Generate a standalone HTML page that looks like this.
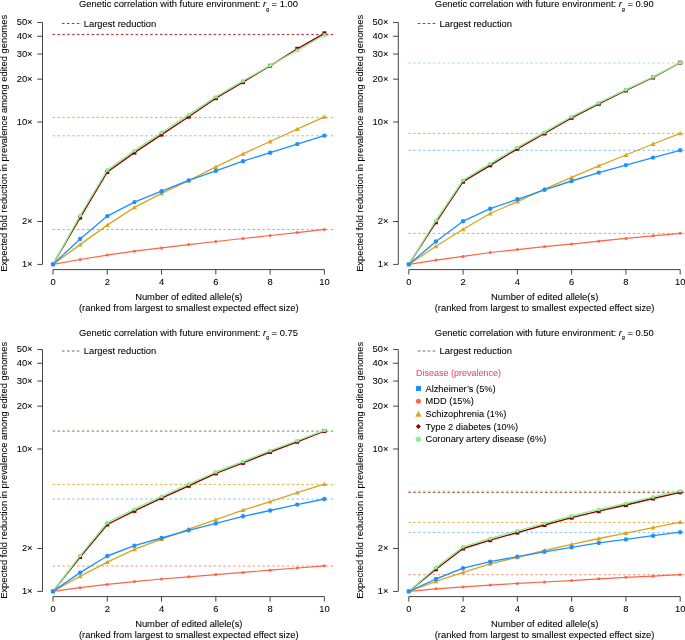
<!DOCTYPE html>
<html><head><meta charset="utf-8"><style>
html,body{margin:0;padding:0;background:#fff;}
svg{display:block;will-change:transform;}
text{font-family:"Liberation Sans", sans-serif;fill:#000;stroke:#000;stroke-width:0.07px;}
</style></head><body>
<svg width="685" height="640" viewBox="0 0 685 640">
<rect width="685" height="640" fill="#fff"/>
<text x="188.5" y="6.8" text-anchor="middle" font-size="9.4">Genetic correlation with future environment: <tspan font-style="italic">r</tspan><tspan font-size="5.2" dy="3.7" style="stroke-width:0.1px">g</tspan><tspan dy="-3.7"> = 1.00</tspan></text>
<path d="M42.5 22.47V264.4" stroke="#444" stroke-width="1" fill="none"/>
<path d="M37.3 264.4H42.5" stroke="#444" stroke-width="1"/>
<text x="32.6" y="267" text-anchor="end" font-size="9.4">1×</text>
<path d="M37.3 221.53H42.5" stroke="#444" stroke-width="1"/>
<text x="32.6" y="224.13" text-anchor="end" font-size="9.4">2×</text>
<path d="M37.3 122H42.5" stroke="#444" stroke-width="1"/>
<text x="32.6" y="124.6" text-anchor="end" font-size="9.4">10×</text>
<path d="M37.3 79.13H42.5" stroke="#444" stroke-width="1"/>
<text x="32.6" y="81.73" text-anchor="end" font-size="9.4">20×</text>
<path d="M37.3 54.06H42.5" stroke="#444" stroke-width="1"/>
<text x="32.6" y="56.66" text-anchor="end" font-size="9.4">30×</text>
<path d="M37.3 36.27H42.5" stroke="#444" stroke-width="1"/>
<text x="32.6" y="38.87" text-anchor="end" font-size="9.4">40×</text>
<path d="M37.3 22.47H42.5" stroke="#444" stroke-width="1"/>
<text x="32.6" y="25.07" text-anchor="end" font-size="9.4">50×</text>
<path d="M53 269.6H324.4" stroke="#444" stroke-width="1" fill="none"/>
<path d="M53 269.6V274.6" stroke="#444" stroke-width="1"/>
<text x="53" y="285.3" text-anchor="middle" font-size="9.4">0</text>
<path d="M107.28 269.6V274.6" stroke="#444" stroke-width="1"/>
<text x="107.28" y="285.3" text-anchor="middle" font-size="9.4">2</text>
<path d="M161.56 269.6V274.6" stroke="#444" stroke-width="1"/>
<text x="161.56" y="285.3" text-anchor="middle" font-size="9.4">4</text>
<path d="M215.84 269.6V274.6" stroke="#444" stroke-width="1"/>
<text x="215.84" y="285.3" text-anchor="middle" font-size="9.4">6</text>
<path d="M270.12 269.6V274.6" stroke="#444" stroke-width="1"/>
<text x="270.12" y="285.3" text-anchor="middle" font-size="9.4">8</text>
<path d="M324.4 269.6V274.6" stroke="#444" stroke-width="1"/>
<text x="324.4" y="285.3" text-anchor="middle" font-size="9.4">10</text>
<text x="188.8" y="299.9" text-anchor="middle" font-size="9.4">Number of edited allele(s)</text>
<text x="188.8" y="310.8" text-anchor="middle" font-size="9.4">(ranked from largest to smallest expected effect size)</text>
<text transform="translate(7.2 143.4) rotate(-90)" text-anchor="middle" font-size="9.4">Expected fold reduction in prevalence among edited genomes</text>
<path d="M62 23.5H79.8" stroke="#5a5a5a" stroke-width="1.0" stroke-dasharray="2.6 2.33"/>
<text x="83.8" y="26.9" font-size="9.4">Largest reduction</text>
<path d="M52.6 229.5H333.3" stroke="#FF6347" stroke-width="1" stroke-opacity="0.7" stroke-dasharray="2.5 2.38"/>
<path d="M52.6 135.8H333.3" stroke="#1E90FF" stroke-width="1" stroke-opacity="0.55" stroke-dasharray="2.5 2.38"/>
<path d="M52.6 117.4H333.3" stroke="#DAA520" stroke-width="1" stroke-opacity="0.85" stroke-dasharray="2.5 2.38"/>
<path d="M52.6 35.3H333.3" stroke="#90EE90" stroke-width="1" stroke-opacity="0.6" stroke-dasharray="2.5 2.38"/>
<path d="M52.6 34.4H333.3" stroke="#8B0000" stroke-width="1" stroke-opacity="0.8" stroke-dasharray="2.5 2.38"/>
<polyline points="53,264.4 80.14,259.5 107.28,255.1 134.42,251.2 161.56,247.9 188.7,244.6 215.84,241.5 242.98,238.5 270.12,235.5 297.26,232.6 324.4,229.4" fill="none" stroke="#FF6347" stroke-width="1.2" stroke-linejoin="round"/>
<circle cx="80.14" cy="259.5" r="1.5" fill="#FF6347"/>
<circle cx="107.28" cy="255.1" r="1.5" fill="#FF6347"/>
<circle cx="134.42" cy="251.2" r="1.5" fill="#FF6347"/>
<circle cx="161.56" cy="247.9" r="1.5" fill="#FF6347"/>
<circle cx="188.7" cy="244.6" r="1.5" fill="#FF6347"/>
<circle cx="215.84" cy="241.5" r="1.5" fill="#FF6347"/>
<circle cx="242.98" cy="238.5" r="1.5" fill="#FF6347"/>
<circle cx="270.12" cy="235.5" r="1.5" fill="#FF6347"/>
<circle cx="297.26" cy="232.6" r="1.5" fill="#FF6347"/>
<circle cx="324.4" cy="229.4" r="1.5" fill="#FF6347"/>
<polyline points="53,264.4 80.14,244.6 107.28,225.1 134.42,207.4 161.56,193.4 188.7,180.6 215.84,166.8 242.98,153.9 270.12,141.5 297.26,129.1 324.4,116.9" fill="none" stroke="#DAA520" stroke-width="1.3" stroke-linejoin="round"/>
<path d="M80.14 242.2L82.66 246.52L77.62 246.52Z" fill="#DAA520"/>
<path d="M107.28 222.7L109.8 227.02L104.76 227.02Z" fill="#DAA520"/>
<path d="M134.42 205L136.94 209.32L131.9 209.32Z" fill="#DAA520"/>
<path d="M161.56 191L164.08 195.32L159.04 195.32Z" fill="#DAA520"/>
<path d="M188.7 178.2L191.22 182.52L186.18 182.52Z" fill="#DAA520"/>
<path d="M215.84 164.4L218.36 168.72L213.32 168.72Z" fill="#DAA520"/>
<path d="M242.98 151.5L245.5 155.82L240.46 155.82Z" fill="#DAA520"/>
<path d="M270.12 139.1L272.64 143.42L267.6 143.42Z" fill="#DAA520"/>
<path d="M297.26 126.7L299.78 131.02L294.74 131.02Z" fill="#DAA520"/>
<path d="M324.4 114.5L326.92 118.82L321.88 118.82Z" fill="#DAA520"/>
<polyline points="53,264.4 80.14,238.9 107.28,216.1 134.42,202.1 161.56,191.2 188.7,180.4 215.84,170.8 242.98,161.2 270.12,152.7 297.26,144.1 324.4,135.6" fill="none" stroke="#1E90FF" stroke-width="1.35" stroke-linejoin="round"/>
<circle cx="80.14" cy="238.9" r="2.2" fill="#1E90FF"/>
<circle cx="107.28" cy="216.1" r="2.2" fill="#1E90FF"/>
<circle cx="134.42" cy="202.1" r="2.2" fill="#1E90FF"/>
<circle cx="161.56" cy="191.2" r="2.2" fill="#1E90FF"/>
<circle cx="188.7" cy="180.4" r="2.2" fill="#1E90FF"/>
<circle cx="215.84" cy="170.8" r="2.2" fill="#1E90FF"/>
<circle cx="242.98" cy="161.2" r="2.2" fill="#1E90FF"/>
<circle cx="270.12" cy="152.7" r="2.2" fill="#1E90FF"/>
<circle cx="297.26" cy="144.1" r="2.2" fill="#1E90FF"/>
<circle cx="324.4" cy="135.6" r="2.2" fill="#1E90FF"/>
<polyline points="53,264.4 80.14,217.6 107.28,172 134.42,152.6 161.56,134.6 188.7,116.7 215.84,98.2 242.98,82.1 270.12,65.8 297.26,48.8 324.4,33.3" fill="none" stroke="#8B0000" stroke-width="1.35" stroke-linejoin="round"/>
<rect x="78.14" y="215.6" width="4" height="4" fill="#8B0000"/>
<rect x="105.28" y="170" width="4" height="4" fill="#8B0000"/>
<rect x="132.42" y="150.6" width="4" height="4" fill="#8B0000"/>
<rect x="159.56" y="132.6" width="4" height="4" fill="#8B0000"/>
<rect x="186.7" y="114.7" width="4" height="4" fill="#8B0000"/>
<rect x="213.84" y="96.2" width="4" height="4" fill="#8B0000"/>
<rect x="240.98" y="80.1" width="4" height="4" fill="#8B0000"/>
<rect x="268.12" y="63.8" width="4" height="4" fill="#8B0000"/>
<rect x="295.26" y="46.8" width="4" height="4" fill="#8B0000"/>
<rect x="322.4" y="31.3" width="4" height="4" fill="#8B0000"/>
<polyline points="53,264.4 80.14,215.5 107.28,170 134.42,150.6 161.56,132.5 188.7,114.6 215.84,96.8 242.98,80.9 270.12,65.5 297.26,50.4 324.4,35" fill="none" stroke="#90EE90" stroke-width="1.35" stroke-linejoin="round"/>
<circle cx="80.14" cy="215.5" r="1.9" fill="#90EE90"/>
<circle cx="107.28" cy="170" r="1.9" fill="#90EE90"/>
<circle cx="134.42" cy="150.6" r="1.9" fill="#90EE90"/>
<circle cx="161.56" cy="132.5" r="1.9" fill="#90EE90"/>
<circle cx="188.7" cy="114.6" r="1.9" fill="#90EE90"/>
<circle cx="215.84" cy="96.8" r="1.9" fill="#90EE90"/>
<circle cx="242.98" cy="80.9" r="1.9" fill="#90EE90"/>
<circle cx="270.12" cy="65.5" r="1.9" fill="#90EE90"/>
<circle cx="297.26" cy="50.4" r="1.9" fill="#90EE90"/>
<circle cx="324.4" cy="35" r="1.9" fill="#90EE90"/>
<rect x="50.9" y="262.3" width="4.2" height="4.2" rx="0.9" fill="#1E90FF"/>
<text x="544.3" y="6.8" text-anchor="middle" font-size="9.4">Genetic correlation with future environment: <tspan font-style="italic">r</tspan><tspan font-size="5.2" dy="3.7" style="stroke-width:0.1px">g</tspan><tspan dy="-3.7"> = 0.90</tspan></text>
<path d="M398.3 22.47V264.4" stroke="#444" stroke-width="1" fill="none"/>
<path d="M393.1 264.4H398.3" stroke="#444" stroke-width="1"/>
<text x="388.4" y="267" text-anchor="end" font-size="9.4">1×</text>
<path d="M393.1 221.53H398.3" stroke="#444" stroke-width="1"/>
<text x="388.4" y="224.13" text-anchor="end" font-size="9.4">2×</text>
<path d="M393.1 122H398.3" stroke="#444" stroke-width="1"/>
<text x="388.4" y="124.6" text-anchor="end" font-size="9.4">10×</text>
<path d="M393.1 79.13H398.3" stroke="#444" stroke-width="1"/>
<text x="388.4" y="81.73" text-anchor="end" font-size="9.4">20×</text>
<path d="M393.1 54.06H398.3" stroke="#444" stroke-width="1"/>
<text x="388.4" y="56.66" text-anchor="end" font-size="9.4">30×</text>
<path d="M393.1 36.27H398.3" stroke="#444" stroke-width="1"/>
<text x="388.4" y="38.87" text-anchor="end" font-size="9.4">40×</text>
<path d="M393.1 22.47H398.3" stroke="#444" stroke-width="1"/>
<text x="388.4" y="25.07" text-anchor="end" font-size="9.4">50×</text>
<path d="M408.8 269.6H680.2" stroke="#444" stroke-width="1" fill="none"/>
<path d="M408.8 269.6V274.6" stroke="#444" stroke-width="1"/>
<text x="408.8" y="285.3" text-anchor="middle" font-size="9.4">0</text>
<path d="M463.08 269.6V274.6" stroke="#444" stroke-width="1"/>
<text x="463.08" y="285.3" text-anchor="middle" font-size="9.4">2</text>
<path d="M517.36 269.6V274.6" stroke="#444" stroke-width="1"/>
<text x="517.36" y="285.3" text-anchor="middle" font-size="9.4">4</text>
<path d="M571.64 269.6V274.6" stroke="#444" stroke-width="1"/>
<text x="571.64" y="285.3" text-anchor="middle" font-size="9.4">6</text>
<path d="M625.92 269.6V274.6" stroke="#444" stroke-width="1"/>
<text x="625.92" y="285.3" text-anchor="middle" font-size="9.4">8</text>
<path d="M680.2 269.6V274.6" stroke="#444" stroke-width="1"/>
<text x="680.2" y="285.3" text-anchor="middle" font-size="9.4">10</text>
<text x="544.6" y="299.9" text-anchor="middle" font-size="9.4">Number of edited allele(s)</text>
<text x="544.6" y="310.8" text-anchor="middle" font-size="9.4">(ranked from largest to smallest expected effect size)</text>
<text transform="translate(363 143.4) rotate(-90)" text-anchor="middle" font-size="9.4">Expected fold reduction in prevalence among edited genomes</text>
<path d="M417.8 23.5H435.6" stroke="#5a5a5a" stroke-width="1.0" stroke-dasharray="2.6 2.33"/>
<text x="439.6" y="26.9" font-size="9.4">Largest reduction</text>
<path d="M408.4 233.4H689.1" stroke="#FF6347" stroke-width="1" stroke-opacity="0.7" stroke-dasharray="2.5 2.38"/>
<path d="M408.4 150.3H689.1" stroke="#1E90FF" stroke-width="1" stroke-opacity="0.55" stroke-dasharray="2.5 2.38"/>
<path d="M408.4 133.4H689.1" stroke="#DAA520" stroke-width="1" stroke-opacity="0.85" stroke-dasharray="2.5 2.38"/>
<path d="M408.4 63H689.1" stroke="#90EE90" stroke-width="1" stroke-opacity="0.9" stroke-dasharray="2.5 2.38"/>
<polyline points="408.8,264.4 435.94,260.1 463.08,256.4 490.22,252.5 517.36,249.6 544.5,246.6 571.64,244.1 598.78,241.2 625.92,238.4 653.06,235.8 680.2,233.3" fill="none" stroke="#FF6347" stroke-width="1.2" stroke-linejoin="round"/>
<circle cx="435.94" cy="260.1" r="1.5" fill="#FF6347"/>
<circle cx="463.08" cy="256.4" r="1.5" fill="#FF6347"/>
<circle cx="490.22" cy="252.5" r="1.5" fill="#FF6347"/>
<circle cx="517.36" cy="249.6" r="1.5" fill="#FF6347"/>
<circle cx="544.5" cy="246.6" r="1.5" fill="#FF6347"/>
<circle cx="571.64" cy="244.1" r="1.5" fill="#FF6347"/>
<circle cx="598.78" cy="241.2" r="1.5" fill="#FF6347"/>
<circle cx="625.92" cy="238.4" r="1.5" fill="#FF6347"/>
<circle cx="653.06" cy="235.8" r="1.5" fill="#FF6347"/>
<circle cx="680.2" cy="233.3" r="1.5" fill="#FF6347"/>
<polyline points="408.8,264.4 435.94,246.3 463.08,229.3 490.22,213.5 517.36,201.7 544.5,189.2 571.64,177.3 598.78,165.8 625.92,155 653.06,144 680.2,133.4" fill="none" stroke="#DAA520" stroke-width="1.3" stroke-linejoin="round"/>
<path d="M435.94 243.9L438.46 248.22L433.42 248.22Z" fill="#DAA520"/>
<path d="M463.08 226.9L465.6 231.22L460.56 231.22Z" fill="#DAA520"/>
<path d="M490.22 211.1L492.74 215.42L487.7 215.42Z" fill="#DAA520"/>
<path d="M517.36 199.3L519.88 203.62L514.84 203.62Z" fill="#DAA520"/>
<path d="M544.5 186.8L547.02 191.12L541.98 191.12Z" fill="#DAA520"/>
<path d="M571.64 174.9L574.16 179.22L569.12 179.22Z" fill="#DAA520"/>
<path d="M598.78 163.4L601.3 167.72L596.26 167.72Z" fill="#DAA520"/>
<path d="M625.92 152.6L628.44 156.92L623.4 156.92Z" fill="#DAA520"/>
<path d="M653.06 141.6L655.58 145.92L650.54 145.92Z" fill="#DAA520"/>
<path d="M680.2 131L682.72 135.32L677.68 135.32Z" fill="#DAA520"/>
<polyline points="408.8,264.4 435.94,241.5 463.08,221.2 490.22,208.7 517.36,199.3 544.5,189.8 571.64,181 598.78,172.6 625.92,165.1 653.06,157.6 680.2,150.3" fill="none" stroke="#1E90FF" stroke-width="1.35" stroke-linejoin="round"/>
<circle cx="435.94" cy="241.5" r="2.2" fill="#1E90FF"/>
<circle cx="463.08" cy="221.2" r="2.2" fill="#1E90FF"/>
<circle cx="490.22" cy="208.7" r="2.2" fill="#1E90FF"/>
<circle cx="517.36" cy="199.3" r="2.2" fill="#1E90FF"/>
<circle cx="544.5" cy="189.8" r="2.2" fill="#1E90FF"/>
<circle cx="571.64" cy="181" r="2.2" fill="#1E90FF"/>
<circle cx="598.78" cy="172.6" r="2.2" fill="#1E90FF"/>
<circle cx="625.92" cy="165.1" r="2.2" fill="#1E90FF"/>
<circle cx="653.06" cy="157.6" r="2.2" fill="#1E90FF"/>
<circle cx="680.2" cy="150.3" r="2.2" fill="#1E90FF"/>
<polyline points="408.8,264.4 435.94,222.3 463.08,181.7 490.22,165.3 517.36,148.8 544.5,133.5 571.64,117.8 598.78,103.8 625.92,90.5 653.06,77.5 680.2,62.7" fill="none" stroke="#8B0000" stroke-width="1.35" stroke-linejoin="round"/>
<rect x="433.94" y="220.3" width="4" height="4" fill="#8B0000"/>
<rect x="461.08" y="179.7" width="4" height="4" fill="#8B0000"/>
<rect x="488.22" y="163.3" width="4" height="4" fill="#8B0000"/>
<rect x="515.36" y="146.8" width="4" height="4" fill="#8B0000"/>
<rect x="542.5" y="131.5" width="4" height="4" fill="#8B0000"/>
<rect x="569.64" y="115.8" width="4" height="4" fill="#8B0000"/>
<rect x="596.78" y="101.8" width="4" height="4" fill="#8B0000"/>
<rect x="623.92" y="88.5" width="4" height="4" fill="#8B0000"/>
<rect x="651.06" y="75.5" width="4" height="4" fill="#8B0000"/>
<rect x="678.2" y="60.7" width="4" height="4" fill="#8B0000"/>
<polyline points="408.8,264.4 435.94,220.5 463.08,180.2 490.22,163.6 517.36,147.3 544.5,132.1 571.64,116.6 598.78,102.8 625.92,89.7 653.06,76.8 680.2,62.7" fill="none" stroke="#90EE90" stroke-width="1.35" stroke-linejoin="round"/>
<circle cx="435.94" cy="220.5" r="1.9" fill="#90EE90"/>
<circle cx="463.08" cy="180.2" r="1.9" fill="#90EE90"/>
<circle cx="490.22" cy="163.6" r="1.9" fill="#90EE90"/>
<circle cx="517.36" cy="147.3" r="1.9" fill="#90EE90"/>
<circle cx="544.5" cy="132.1" r="1.9" fill="#90EE90"/>
<circle cx="571.64" cy="116.6" r="1.9" fill="#90EE90"/>
<circle cx="598.78" cy="102.8" r="1.9" fill="#90EE90"/>
<circle cx="625.92" cy="89.7" r="1.9" fill="#90EE90"/>
<circle cx="653.06" cy="76.8" r="1.9" fill="#90EE90"/>
<circle cx="680.2" cy="62.7" r="1.9" fill="#90EE90"/>
<rect x="406.7" y="262.3" width="4.2" height="4.2" rx="0.9" fill="#1E90FF"/>
<text x="188.5" y="335.6" text-anchor="middle" font-size="9.4">Genetic correlation with future environment: <tspan font-style="italic">r</tspan><tspan font-size="5.2" dy="3.7" style="stroke-width:0.1px">g</tspan><tspan dy="-3.7"> = 0.75</tspan></text>
<path d="M42.5 349.47V591.4" stroke="#444" stroke-width="1" fill="none"/>
<path d="M37.3 591.4H42.5" stroke="#444" stroke-width="1"/>
<text x="32.6" y="594" text-anchor="end" font-size="9.4">1×</text>
<path d="M37.3 548.53H42.5" stroke="#444" stroke-width="1"/>
<text x="32.6" y="551.13" text-anchor="end" font-size="9.4">2×</text>
<path d="M37.3 449H42.5" stroke="#444" stroke-width="1"/>
<text x="32.6" y="451.6" text-anchor="end" font-size="9.4">10×</text>
<path d="M37.3 406.13H42.5" stroke="#444" stroke-width="1"/>
<text x="32.6" y="408.73" text-anchor="end" font-size="9.4">20×</text>
<path d="M37.3 381.06H42.5" stroke="#444" stroke-width="1"/>
<text x="32.6" y="383.66" text-anchor="end" font-size="9.4">30×</text>
<path d="M37.3 363.27H42.5" stroke="#444" stroke-width="1"/>
<text x="32.6" y="365.87" text-anchor="end" font-size="9.4">40×</text>
<path d="M37.3 349.47H42.5" stroke="#444" stroke-width="1"/>
<text x="32.6" y="352.07" text-anchor="end" font-size="9.4">50×</text>
<path d="M53 596.6H324.4" stroke="#444" stroke-width="1" fill="none"/>
<path d="M53 596.6V601.6" stroke="#444" stroke-width="1"/>
<text x="53" y="612.3" text-anchor="middle" font-size="9.4">0</text>
<path d="M107.28 596.6V601.6" stroke="#444" stroke-width="1"/>
<text x="107.28" y="612.3" text-anchor="middle" font-size="9.4">2</text>
<path d="M161.56 596.6V601.6" stroke="#444" stroke-width="1"/>
<text x="161.56" y="612.3" text-anchor="middle" font-size="9.4">4</text>
<path d="M215.84 596.6V601.6" stroke="#444" stroke-width="1"/>
<text x="215.84" y="612.3" text-anchor="middle" font-size="9.4">6</text>
<path d="M270.12 596.6V601.6" stroke="#444" stroke-width="1"/>
<text x="270.12" y="612.3" text-anchor="middle" font-size="9.4">8</text>
<path d="M324.4 596.6V601.6" stroke="#444" stroke-width="1"/>
<text x="324.4" y="612.3" text-anchor="middle" font-size="9.4">10</text>
<text x="188.8" y="626.9" text-anchor="middle" font-size="9.4">Number of edited allele(s)</text>
<text x="188.8" y="637.8" text-anchor="middle" font-size="9.4">(ranked from largest to smallest expected effect size)</text>
<text transform="translate(7.2 470.4) rotate(-90)" text-anchor="middle" font-size="9.4">Expected fold reduction in prevalence among edited genomes</text>
<path d="M62 350.95H79.8" stroke="#6a6a6a" stroke-width="1.15" stroke-dasharray="2.6 2.33"/>
<text x="83.8" y="353.9" font-size="9.4">Largest reduction</text>
<path d="M52.6 566H333.3" stroke="#FF6347" stroke-width="1" stroke-opacity="0.7" stroke-dasharray="2.5 2.38"/>
<path d="M52.6 499H333.3" stroke="#1E90FF" stroke-width="1" stroke-opacity="0.55" stroke-dasharray="2.5 2.38"/>
<path d="M52.6 484.4H333.3" stroke="#DAA520" stroke-width="1" stroke-opacity="0.85" stroke-dasharray="2.5 2.38"/>
<path d="M52.6 430H333.3" stroke="#90EE90" stroke-width="1" stroke-opacity="0.6" stroke-dasharray="2.5 2.38"/>
<path d="M52.6 431.3H333.3" stroke="#8B0000" stroke-width="1" stroke-opacity="0.5" stroke-dasharray="2.5 2.38"/>
<polyline points="53,591.4 80.14,587.7 107.28,584.4 134.42,581.6 161.56,579 188.7,576.8 215.84,574.6 242.98,572.4 270.12,570.2 297.26,568 324.4,565.8" fill="none" stroke="#FF6347" stroke-width="1.2" stroke-linejoin="round"/>
<circle cx="80.14" cy="587.7" r="1.5" fill="#FF6347"/>
<circle cx="107.28" cy="584.4" r="1.5" fill="#FF6347"/>
<circle cx="134.42" cy="581.6" r="1.5" fill="#FF6347"/>
<circle cx="161.56" cy="579" r="1.5" fill="#FF6347"/>
<circle cx="188.7" cy="576.8" r="1.5" fill="#FF6347"/>
<circle cx="215.84" cy="574.6" r="1.5" fill="#FF6347"/>
<circle cx="242.98" cy="572.4" r="1.5" fill="#FF6347"/>
<circle cx="270.12" cy="570.2" r="1.5" fill="#FF6347"/>
<circle cx="297.26" cy="568" r="1.5" fill="#FF6347"/>
<circle cx="324.4" cy="565.8" r="1.5" fill="#FF6347"/>
<polyline points="53,591.4 80.14,576.3 107.28,562.1 134.42,549.4 161.56,539.1 188.7,529.2 215.84,519.6 242.98,510.2 270.12,501.6 297.26,492.7 324.4,484.2" fill="none" stroke="#DAA520" stroke-width="1.3" stroke-linejoin="round"/>
<path d="M80.14 573.9L82.66 578.22L77.62 578.22Z" fill="#DAA520"/>
<path d="M107.28 559.7L109.8 564.02L104.76 564.02Z" fill="#DAA520"/>
<path d="M134.42 547L136.94 551.32L131.9 551.32Z" fill="#DAA520"/>
<path d="M161.56 536.7L164.08 541.02L159.04 541.02Z" fill="#DAA520"/>
<path d="M188.7 526.8L191.22 531.12L186.18 531.12Z" fill="#DAA520"/>
<path d="M215.84 517.2L218.36 521.52L213.32 521.52Z" fill="#DAA520"/>
<path d="M242.98 507.8L245.5 512.12L240.46 512.12Z" fill="#DAA520"/>
<path d="M270.12 499.2L272.64 503.52L267.6 503.52Z" fill="#DAA520"/>
<path d="M297.26 490.3L299.78 494.62L294.74 494.62Z" fill="#DAA520"/>
<path d="M324.4 481.8L326.92 486.12L321.88 486.12Z" fill="#DAA520"/>
<polyline points="53,591.4 80.14,572.6 107.28,556 134.42,545.7 161.56,538 188.7,530.3 215.84,523.4 242.98,516.3 270.12,510.5 297.26,504.6 324.4,499" fill="none" stroke="#1E90FF" stroke-width="1.35" stroke-linejoin="round"/>
<circle cx="80.14" cy="572.6" r="2.2" fill="#1E90FF"/>
<circle cx="107.28" cy="556" r="2.2" fill="#1E90FF"/>
<circle cx="134.42" cy="545.7" r="2.2" fill="#1E90FF"/>
<circle cx="161.56" cy="538" r="2.2" fill="#1E90FF"/>
<circle cx="188.7" cy="530.3" r="2.2" fill="#1E90FF"/>
<circle cx="215.84" cy="523.4" r="2.2" fill="#1E90FF"/>
<circle cx="242.98" cy="516.3" r="2.2" fill="#1E90FF"/>
<circle cx="270.12" cy="510.5" r="2.2" fill="#1E90FF"/>
<circle cx="297.26" cy="504.6" r="2.2" fill="#1E90FF"/>
<circle cx="324.4" cy="499" r="2.2" fill="#1E90FF"/>
<polyline points="53,591.4 80.14,557 107.28,524.5 134.42,510.9 161.56,498.2 188.7,485.8 215.84,473.4 242.98,462.9 270.12,452 297.26,441.8 324.4,431.1" fill="none" stroke="#8B0000" stroke-width="1.35" stroke-linejoin="round"/>
<rect x="78.14" y="555" width="4" height="4" fill="#8B0000"/>
<rect x="105.28" y="522.5" width="4" height="4" fill="#8B0000"/>
<rect x="132.42" y="508.9" width="4" height="4" fill="#8B0000"/>
<rect x="159.56" y="496.2" width="4" height="4" fill="#8B0000"/>
<rect x="186.7" y="483.8" width="4" height="4" fill="#8B0000"/>
<rect x="213.84" y="471.4" width="4" height="4" fill="#8B0000"/>
<rect x="240.98" y="460.9" width="4" height="4" fill="#8B0000"/>
<rect x="268.12" y="450" width="4" height="4" fill="#8B0000"/>
<rect x="295.26" y="439.8" width="4" height="4" fill="#8B0000"/>
<rect x="322.4" y="429.1" width="4" height="4" fill="#8B0000"/>
<polyline points="53,591.4 80.14,555.5 107.28,522.7 134.42,509.1 161.56,496.4 188.7,484 215.84,472 242.98,461.5 270.12,450.7 297.26,440.6 324.4,430.3" fill="none" stroke="#90EE90" stroke-width="1.35" stroke-linejoin="round"/>
<circle cx="80.14" cy="555.5" r="1.9" fill="#90EE90"/>
<circle cx="107.28" cy="522.7" r="1.9" fill="#90EE90"/>
<circle cx="134.42" cy="509.1" r="1.9" fill="#90EE90"/>
<circle cx="161.56" cy="496.4" r="1.9" fill="#90EE90"/>
<circle cx="188.7" cy="484" r="1.9" fill="#90EE90"/>
<circle cx="215.84" cy="472" r="1.9" fill="#90EE90"/>
<circle cx="242.98" cy="461.5" r="1.9" fill="#90EE90"/>
<circle cx="270.12" cy="450.7" r="1.9" fill="#90EE90"/>
<circle cx="297.26" cy="440.6" r="1.9" fill="#90EE90"/>
<circle cx="324.4" cy="430.3" r="1.9" fill="#90EE90"/>
<rect x="50.9" y="589.3" width="4.2" height="4.2" rx="0.9" fill="#1E90FF"/>
<text x="544.3" y="335.6" text-anchor="middle" font-size="9.4">Genetic correlation with future environment: <tspan font-style="italic">r</tspan><tspan font-size="5.2" dy="3.7" style="stroke-width:0.1px">g</tspan><tspan dy="-3.7"> = 0.50</tspan></text>
<path d="M398.3 349.47V591.4" stroke="#444" stroke-width="1" fill="none"/>
<path d="M393.1 591.4H398.3" stroke="#444" stroke-width="1"/>
<text x="388.4" y="594" text-anchor="end" font-size="9.4">1×</text>
<path d="M393.1 548.53H398.3" stroke="#444" stroke-width="1"/>
<text x="388.4" y="551.13" text-anchor="end" font-size="9.4">2×</text>
<path d="M393.1 449H398.3" stroke="#444" stroke-width="1"/>
<text x="388.4" y="451.6" text-anchor="end" font-size="9.4">10×</text>
<path d="M393.1 406.13H398.3" stroke="#444" stroke-width="1"/>
<text x="388.4" y="408.73" text-anchor="end" font-size="9.4">20×</text>
<path d="M393.1 381.06H398.3" stroke="#444" stroke-width="1"/>
<text x="388.4" y="383.66" text-anchor="end" font-size="9.4">30×</text>
<path d="M393.1 363.27H398.3" stroke="#444" stroke-width="1"/>
<text x="388.4" y="365.87" text-anchor="end" font-size="9.4">40×</text>
<path d="M393.1 349.47H398.3" stroke="#444" stroke-width="1"/>
<text x="388.4" y="352.07" text-anchor="end" font-size="9.4">50×</text>
<path d="M408.8 596.6H680.2" stroke="#444" stroke-width="1" fill="none"/>
<path d="M408.8 596.6V601.6" stroke="#444" stroke-width="1"/>
<text x="408.8" y="612.3" text-anchor="middle" font-size="9.4">0</text>
<path d="M463.08 596.6V601.6" stroke="#444" stroke-width="1"/>
<text x="463.08" y="612.3" text-anchor="middle" font-size="9.4">2</text>
<path d="M517.36 596.6V601.6" stroke="#444" stroke-width="1"/>
<text x="517.36" y="612.3" text-anchor="middle" font-size="9.4">4</text>
<path d="M571.64 596.6V601.6" stroke="#444" stroke-width="1"/>
<text x="571.64" y="612.3" text-anchor="middle" font-size="9.4">6</text>
<path d="M625.92 596.6V601.6" stroke="#444" stroke-width="1"/>
<text x="625.92" y="612.3" text-anchor="middle" font-size="9.4">8</text>
<path d="M680.2 596.6V601.6" stroke="#444" stroke-width="1"/>
<text x="680.2" y="612.3" text-anchor="middle" font-size="9.4">10</text>
<text x="544.6" y="626.9" text-anchor="middle" font-size="9.4">Number of edited allele(s)</text>
<text x="544.6" y="637.8" text-anchor="middle" font-size="9.4">(ranked from largest to smallest expected effect size)</text>
<text transform="translate(363 470.4) rotate(-90)" text-anchor="middle" font-size="9.4">Expected fold reduction in prevalence among edited genomes</text>
<path d="M417.8 350.95H435.6" stroke="#6a6a6a" stroke-width="1.15" stroke-dasharray="2.6 2.33"/>
<text x="439.6" y="353.9" font-size="9.4">Largest reduction</text>
<path d="M408.4 574.7H689.1" stroke="#FF6347" stroke-width="1" stroke-opacity="0.7" stroke-dasharray="2.5 2.38"/>
<path d="M408.4 532.4H689.1" stroke="#1E90FF" stroke-width="1" stroke-opacity="0.55" stroke-dasharray="2.5 2.38"/>
<path d="M408.4 522.4H689.1" stroke="#DAA520" stroke-width="1" stroke-opacity="0.85" stroke-dasharray="2.5 2.38"/>
<path d="M408.4 490.8H689.1" stroke="#90EE90" stroke-width="1" stroke-opacity="0.6" stroke-dasharray="2.5 2.38"/>
<path d="M408.4 492.3H689.1" stroke="#8B0000" stroke-width="1" stroke-opacity="0.8" stroke-dasharray="2.5 2.38"/>
<polyline points="408.8,591.4 435.94,588.8 463.08,586.9 490.22,585.1 517.36,583.4 544.5,582 571.64,580.6 598.78,578.8 625.92,577.3 653.06,576.2 680.2,574.7" fill="none" stroke="#FF6347" stroke-width="1.2" stroke-linejoin="round"/>
<circle cx="435.94" cy="588.8" r="1.5" fill="#FF6347"/>
<circle cx="463.08" cy="586.9" r="1.5" fill="#FF6347"/>
<circle cx="490.22" cy="585.1" r="1.5" fill="#FF6347"/>
<circle cx="517.36" cy="583.4" r="1.5" fill="#FF6347"/>
<circle cx="544.5" cy="582" r="1.5" fill="#FF6347"/>
<circle cx="571.64" cy="580.6" r="1.5" fill="#FF6347"/>
<circle cx="598.78" cy="578.8" r="1.5" fill="#FF6347"/>
<circle cx="625.92" cy="577.3" r="1.5" fill="#FF6347"/>
<circle cx="653.06" cy="576.2" r="1.5" fill="#FF6347"/>
<circle cx="680.2" cy="574.7" r="1.5" fill="#FF6347"/>
<polyline points="408.8,591.4 435.94,581.4 463.08,572.4 490.22,563.9 517.36,557.3 544.5,550.5 571.64,544.4 598.78,538.5 625.92,533.1 653.06,527.6 680.2,522.1" fill="none" stroke="#DAA520" stroke-width="1.3" stroke-linejoin="round"/>
<path d="M435.94 579L438.46 583.32L433.42 583.32Z" fill="#DAA520"/>
<path d="M463.08 570L465.6 574.32L460.56 574.32Z" fill="#DAA520"/>
<path d="M490.22 561.5L492.74 565.82L487.7 565.82Z" fill="#DAA520"/>
<path d="M517.36 554.9L519.88 559.22L514.84 559.22Z" fill="#DAA520"/>
<path d="M544.5 548.1L547.02 552.42L541.98 552.42Z" fill="#DAA520"/>
<path d="M571.64 542L574.16 546.32L569.12 546.32Z" fill="#DAA520"/>
<path d="M598.78 536.1L601.3 540.42L596.26 540.42Z" fill="#DAA520"/>
<path d="M625.92 530.7L628.44 535.02L623.4 535.02Z" fill="#DAA520"/>
<path d="M653.06 525.2L655.58 529.52L650.54 529.52Z" fill="#DAA520"/>
<path d="M680.2 519.7L682.72 524.02L677.68 524.02Z" fill="#DAA520"/>
<polyline points="408.8,591.4 435.94,579 463.08,568.2 490.22,561.7 517.36,556.6 544.5,551.8 571.64,547.3 598.78,542.9 625.92,539.4 653.06,535.7 680.2,532.2" fill="none" stroke="#1E90FF" stroke-width="1.35" stroke-linejoin="round"/>
<circle cx="435.94" cy="579" r="2.2" fill="#1E90FF"/>
<circle cx="463.08" cy="568.2" r="2.2" fill="#1E90FF"/>
<circle cx="490.22" cy="561.7" r="2.2" fill="#1E90FF"/>
<circle cx="517.36" cy="556.6" r="2.2" fill="#1E90FF"/>
<circle cx="544.5" cy="551.8" r="2.2" fill="#1E90FF"/>
<circle cx="571.64" cy="547.3" r="2.2" fill="#1E90FF"/>
<circle cx="598.78" cy="542.9" r="2.2" fill="#1E90FF"/>
<circle cx="625.92" cy="539.4" r="2.2" fill="#1E90FF"/>
<circle cx="653.06" cy="535.7" r="2.2" fill="#1E90FF"/>
<circle cx="680.2" cy="532.2" r="2.2" fill="#1E90FF"/>
<polyline points="408.8,591.4 435.94,569.3 463.08,548.5 490.22,540.2 517.36,532.6 544.5,525 571.64,517.7 598.78,511.2 625.92,505 653.06,498.5 680.2,492.3" fill="none" stroke="#8B0000" stroke-width="1.35" stroke-linejoin="round"/>
<rect x="433.94" y="567.3" width="4" height="4" fill="#8B0000"/>
<rect x="461.08" y="546.5" width="4" height="4" fill="#8B0000"/>
<rect x="488.22" y="538.2" width="4" height="4" fill="#8B0000"/>
<rect x="515.36" y="530.6" width="4" height="4" fill="#8B0000"/>
<rect x="542.5" y="523" width="4" height="4" fill="#8B0000"/>
<rect x="569.64" y="515.7" width="4" height="4" fill="#8B0000"/>
<rect x="596.78" y="509.2" width="4" height="4" fill="#8B0000"/>
<rect x="623.92" y="503" width="4" height="4" fill="#8B0000"/>
<rect x="651.06" y="496.5" width="4" height="4" fill="#8B0000"/>
<rect x="678.2" y="490.3" width="4" height="4" fill="#8B0000"/>
<polyline points="408.8,591.4 435.94,567.6 463.08,546.8 490.22,538.5 517.36,530.8 544.5,523.3 571.64,516 598.78,509.4 625.92,503.3 653.06,496.9 680.2,490.8" fill="none" stroke="#90EE90" stroke-width="1.35" stroke-linejoin="round"/>
<circle cx="435.94" cy="567.6" r="1.9" fill="#90EE90"/>
<circle cx="463.08" cy="546.8" r="1.9" fill="#90EE90"/>
<circle cx="490.22" cy="538.5" r="1.9" fill="#90EE90"/>
<circle cx="517.36" cy="530.8" r="1.9" fill="#90EE90"/>
<circle cx="544.5" cy="523.3" r="1.9" fill="#90EE90"/>
<circle cx="571.64" cy="516" r="1.9" fill="#90EE90"/>
<circle cx="598.78" cy="509.4" r="1.9" fill="#90EE90"/>
<circle cx="625.92" cy="503.3" r="1.9" fill="#90EE90"/>
<circle cx="653.06" cy="496.9" r="1.9" fill="#90EE90"/>
<circle cx="680.2" cy="490.8" r="1.9" fill="#90EE90"/>
<rect x="406.7" y="589.3" width="4.2" height="4.2" rx="0.9" fill="#1E90FF"/>
<text x="415.9" y="375.8" font-size="9.0" style="fill:#E0526E;stroke:#E0526E">Disease (prevalence)</text>
<rect x="416" y="386" width="5" height="5" fill="#1E90FF"/>
<text x="425.5" y="391.6" font-size="9.25">Alzheimer’s (5%)</text>
<circle cx="418.4" cy="401.2" r="2.5" fill="#FF6347"/>
<text x="425.5" y="404.3" font-size="9.25">MDD (15%)</text>
<path d="M418.4 410.7L421.6 416.7L415.2 416.7Z" fill="#DAA520"/>
<text x="425.5" y="417" font-size="9.25">Schizophrenia (1%)</text>
<path d="M418.4 424.1L420.9 426.6L418.4 429.1L415.9 426.6Z" fill="#8B0000"/>
<text x="425.5" y="429.7" font-size="9.25">Type 2 diabetes (10%)</text>
<circle cx="418.4" cy="439.3" r="2.7" fill="#90EE90"/>
<text x="425.5" y="442.4" font-size="9.25">Coronary artery disease (6%)</text>
</svg>
</body></html>
